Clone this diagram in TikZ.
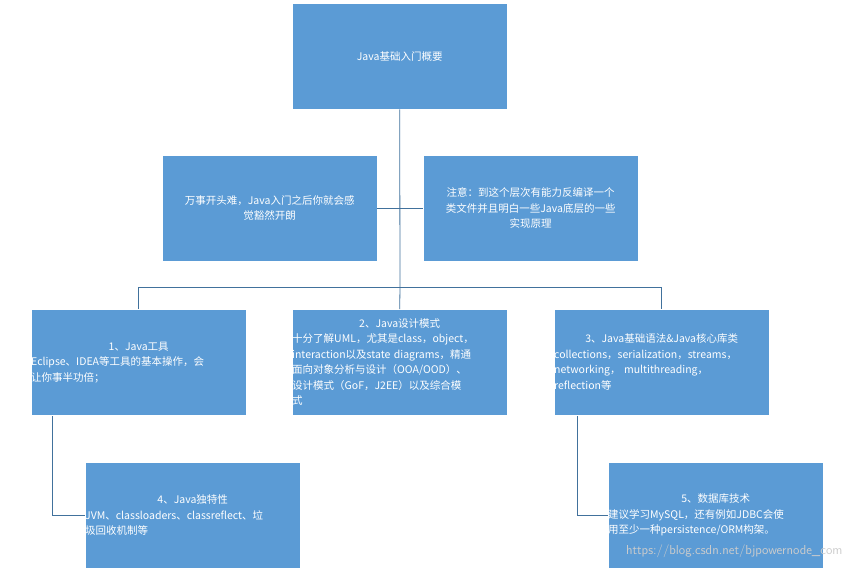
\documentclass[tikz,border=0pt]{standalone}
\usepackage{fontspec}
\setmainfont{Noto Sans CJK SC}
\begin{document}
\begin{tikzpicture}[x=1pt,y=-1pt,
  bx/.style={draw=white,fill=boxblue,text=white,minimum width=215pt,minimum height=106pt,inner sep=0pt,text width=215pt,align=left,font=\fontsize{10.5}{15.5}\selectfont,anchor=north west},
  ln/.style={draw=linecol,line width=0.8pt}]
\definecolor{boxblue}{HTML}{5B9BD5}
\definecolor{linecol}{HTML}{41719C}
\useasboundingbox (0,0) rectangle (854,571);
\newcommand{\ttl}[1]{\makebox[\linewidth][c]{#1}}
\node[bx,align=center] (top) at (292,3) {Java基础入门概要};
\node[bx,align=center] (ml) at (162,155) {万事开头难，Java入门之后你就会感\\觉豁然开朗};
\node[bx,align=center] (mr) at (423,155) {注意：到这个层次有能力反编译一个\\类文件并且明白一些Java底层的一些\\实现原理};
\node[bx] (b1) at (31,309) {\ttl{1、Java工具}\\Eclipse、IDEA等工具的基本操作，会\\让你事半功倍；\\[8pt]};
\node[bx,anchor=north west] (b2) at (292,309) {\ttl{2、Java设计模式}\\十分了解UML，尤其是class，object，\\interaction以及state diagrams，精通\\面向对象分析与设计（OOA/OOD）、\\设计模式（GoF，J2EE）以及综合模\\式};
\node[bx] (b3) at (554,309) {\ttl{3、Java基础语法\&Java核心库类}\\collections，serialization，streams，\\networking，\ multithreading，\\reflection等};
\node[bx] (b4) at (85,462) {\ttl{4、Java独特性}\\JVM、classloaders、classreflect、垃\\圾回收机制等};
\node[bx] (b5) at (608,462) {\ttl{5、数据库技术}\\建议学习MySQL，还有例如JDBC会使\\用至少一种persistence/ORM构架。};
\coordinate (j) at (400,287);
\draw[ln] (top.south) -- (j);
\draw[ln] (ml.east) -- (mr.west);
\draw[ln] (b1.north) -- (b1.north |- j) -- (b3.north |- j) -- (b3.north);
\draw[ln] (b2.north) -- (j);
\coordinate (c1) at (52,416);
\coordinate (c5) at (577,416);
\draw[ln] (c1) -- (c1 |- b4.west) -- (b4.west);
\draw[ln] (c5) -- (c5 |- b5.west) -- (b5.west);
\node[text=gray!40,font=\fontsize{13}{13}\sffamily,anchor=east] (wm) at (846,551) {https://blog.csdn.net/bjpowernode\_com};
\end{tikzpicture}
\end{document}
